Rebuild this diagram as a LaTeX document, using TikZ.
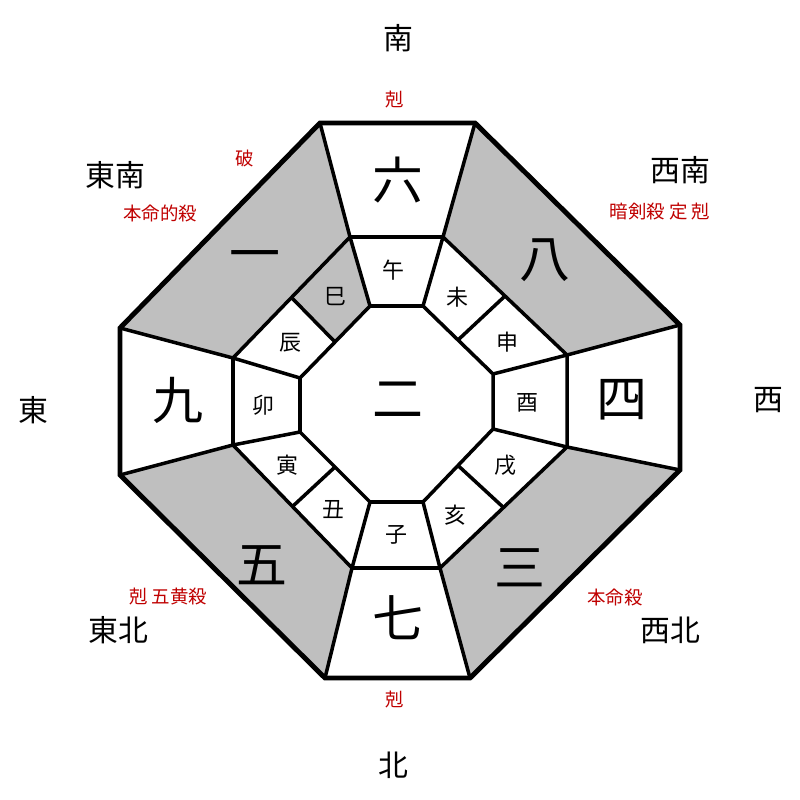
\documentclass[tikz,border=0pt]{standalone}
\usepackage{fontspec}
\setmainfont{Noto Sans CJK JP}
\usetikzlibrary{calc}

\tikzset{
  star/.style={font=\fontsize{29}{29}\selectfont},
  branch/.style={font=\fontsize{12.5}{13}\selectfont},
  direction/.style={font=\fontsize{17}{17}\selectfont},
  remark/.style={font=\fontsize{10.5}{11}\selectfont, text=red!75!black},
  sector/.style={fill=black!25, draw=none}
}

\begin{document}
\begin{tikzpicture}[x=0.02cm, y=-0.02cm, line join=miter]
  \useasboundingbox (0,0) rectangle (800,800);

  % outer, middle and inner octagons
  \foreach \n/\p in {1/{320,123},2/{475,123},3/{680,325},4/{680,470},5/{470,678},6/{325,678},7/{120,475},8/{120,328}}
    \coordinate (o\n) at (\p);
  \foreach \n/\p in {1/{350,237},2/{443,237},3/{567,355},4/{567,447},5/{440,568},6/{352,568},7/{233,445},8/{233,358}}
    \coordinate (m\n) at (\p);
  \foreach \n/\p in {1/{370,306},2/{423,306},3/{493,374},4/{493,429},5/{423,502},6/{370,502},7/{300,432},8/{300,378}}
    \coordinate (i\n) at (\p);

  % gray sectors
  \foreach \a/\b in {2/3,4/5,6/7,8/1}
    \fill[sector] (o\a) -- (o\b) -- (m\b) -- (m\a) -- cycle;
  \fill[sector] (m1) -- (i1) -- ($(i8)!0.5!(i1)$) -- ($(m8)!0.5!(m1)$) -- cycle;

  % grid lines
  \draw[line width=2pt] (m1) -- (m2) -- (m3) -- (m4) -- (m5) -- (m6) -- (m7) -- (m8) -- cycle;
  \draw[line width=2pt] (i1) -- (i2) -- (i3) -- (i4) -- (i5) -- (i6) -- (i7) -- (i8) -- cycle;
  \foreach \k in {1,...,8} {
    \draw[line width=2pt] (m\k) -- (o\k);
    \draw[line width=2pt] (i\k) -- (m\k);
  }
  \foreach \a/\b in {2/3,4/5,6/7,8/1}
    \draw[line width=2pt] ($(i\a)!0.5!(i\b)$) -- ($(m\a)!0.5!(m\b)$);
  \draw[line width=2.8pt] (o1) -- (o2) -- (o3) -- (o4) -- (o5) -- (o6) -- (o7) -- (o8) -- cycle;

  % stars
  \node[star] (center) at (398,400) {二};
  \node[star] (south) at (398,180) {六};
  \node[star] (southwest) at (545,260) {八};
  \node[star] (west) at (622,400) {四};
  \node[star] (northwest) at (520,568) {三};
  \node[star] (north) at (398,618) {七};
  \node[star] (northeast) at (262,565) {五};
  \node[star] (east) at (178,400) {九};
  \node[star] (southeast) at (255,262) {一};

  % branches
  \foreach \t/\x/\y [count=\i] in {午/393/270,未/457/297,申/507/342,酉/527/403,戌/505/465,亥/455/515,子/396/535,丑/333/510,寅/287/465,卯/263/405,辰/290/343,巳/335/297}
    \node[branch] (br\i) at (\x,\y) {\t};

  % directions
  \node[direction] (dS) at (398,38) {南};
  \node[direction] (dN) at (393,765) {北};
  \node[direction] (dE) at (33,410) {東};
  \node[direction] (dW) at (768,400) {西};
  \node[direction] (dSE) at (115,175) {東南};
  \node[direction] (dSW) at (680,170) {西南};
  \node[direction] (dNE) at (118,630) {東北};
  \node[direction] (dNW) at (670,630) {西北};

  % remarks
  \node[remark] (rS) at (395,100) {剋};
  \node[remark] (rSEa) at (245,158) {破};
  \node[remark] (rSEb) at (160,213) {本命的殺};
  \node[remark] (rSW) at (660,212) {暗剣殺\ 定\ 剋};
  \node[remark] (rNE) at (168,597) {剋\ 五黄殺};
  \node[remark] (rNW) at (615,597) {本命殺};
  \node[remark] (rN) at (395,700) {剋};
\end{tikzpicture}
\end{document}
